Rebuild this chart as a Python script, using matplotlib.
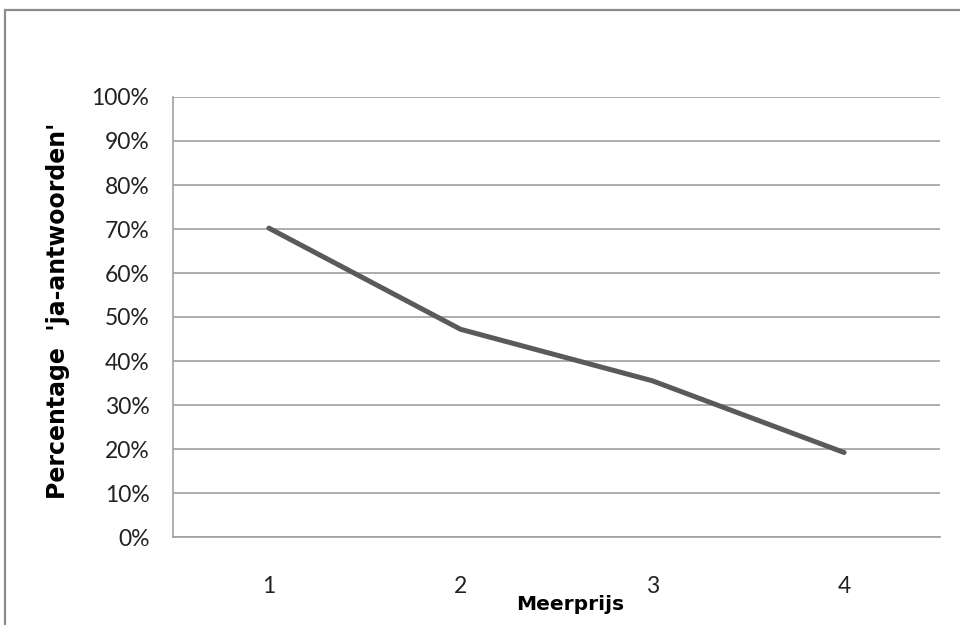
import matplotlib.pyplot as plt
from matplotlib.patches import Rectangle

# share of "ja" answers per surcharge level
meerprijs = [1, 2, 3, 4]
percentage = [70.2, 47.2, 35.5, 19.2]
y_ticks = [0, 10, 20, 30, 40, 50, 60, 70, 80, 90, 100]

W, H = 960, 625
fig = plt.figure(figsize=(W / 100, H / 100), dpi=100)
fig.patch.set_facecolor('white')

# outer chart border (runs off the right and bottom edges)
fig.patches.append(Rectangle((5 / W, -0.1), 1.2, (H - 10) / H + 0.1,
                             transform=fig.transFigure, fill=False,
                             edgecolor='#8c8c8c', linewidth=1.6))

ax = fig.add_axes([173 / W, 1 - 537 / H, (940 - 173) / W, (537 - 97) / H])
ax.plot(meerprijs, percentage, color='#5a5a5a', linewidth=3.6,
        solid_capstyle='round', solid_joinstyle='round', zorder=3)

ax.set_xlim(0.5, 4.5)
ax.set_ylim(0, 100)
ax.set_yticks(y_ticks)
ax.set_yticklabels([f'{t}%' for t in y_ticks])
ax.set_xticks(meerprijs)
ax.set_xticklabels([str(m) for m in meerprijs])
ax.yaxis.grid(True, color='#a0a0a0', linewidth=1.2)
ax.set_axisbelow(True)

for side in ['top', 'right']:
    ax.spines[side].set_visible(False)
for side in ['left', 'bottom']:
    ax.spines[side].set_color('#a0a0a0')
    ax.spines[side].set_linewidth(1.2)

ax.tick_params(axis='both', length=0, labelsize=16.5, colors='#222222')
ax.tick_params(axis='y', pad=17)
ax.tick_params(axis='x', pad=28)
for lbl in ax.get_xticklabels() + ax.get_yticklabels():
    lbl.set_family('Lato')

fig.text(570 / W, 1 - 605 / H, 'Meerprijs', ha='center', va='center',
         fontsize=14.5, fontweight='bold', family='DejaVu Sans')
fig.text(58 / W, 1 - 311 / H, "Percentage  'ja-antwoorden'", ha='center',
         va='center', rotation=90, fontsize=17, fontweight='bold',
         family='DejaVu Sans')

fig.savefig('out.png', dpi=100)
